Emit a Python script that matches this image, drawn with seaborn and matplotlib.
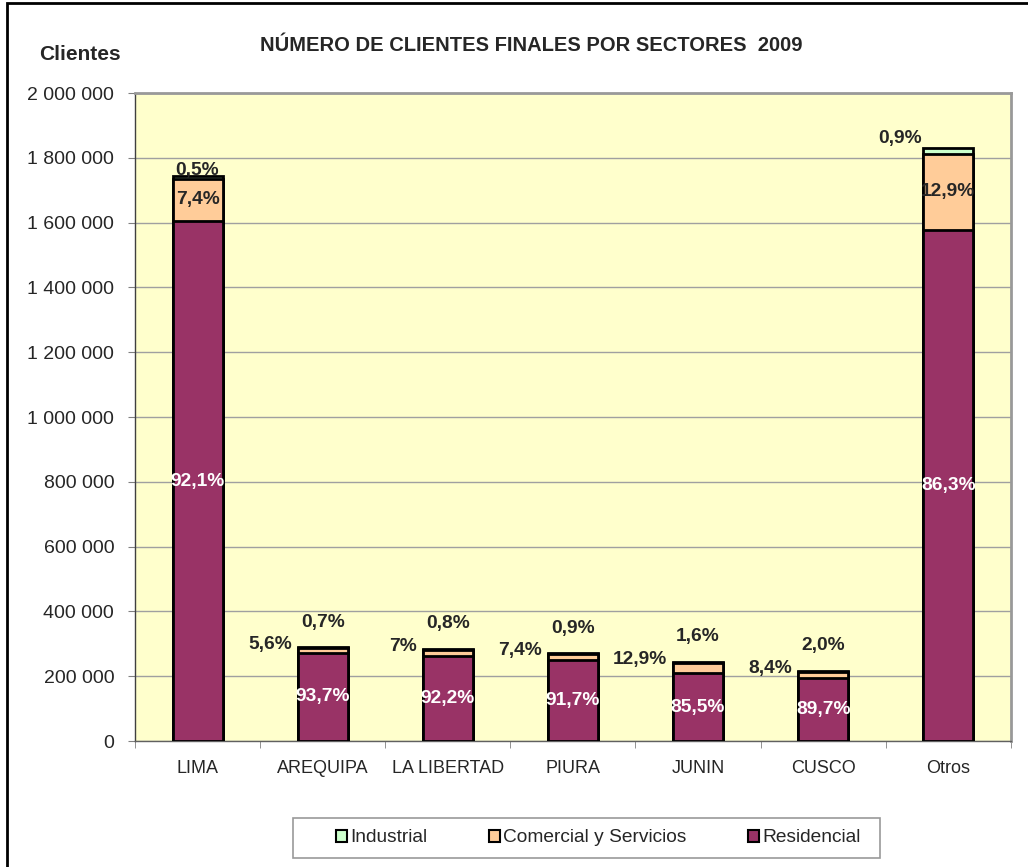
import numpy as np
import pandas as pd
import matplotlib.pyplot as plt
import seaborn as sns
from matplotlib.patches import Patch, Rectangle

sns.set_style("white")
plt.rcParams['font.family'] = ['Liberation Sans', 'DejaVu Sans']

# Datos (clientes por sector, 2009)
regiones = ['LIMA', 'AREQUIPA', 'LA LIBERTAD', 'PIURA', 'JUNIN', 'CUSCO', 'Otros']
residencial = [1605000, 272000, 262000, 249000, 209000, 194000, 1577000]
comercial = [130000, 16000, 20000, 20000, 31500, 18000, 236000]
industrial = [9000, 2000, 2300, 2400, 3900, 4300, 16500]

pct_res = ['92,1%', '93,7%', '92,2%', '91,7%', '85,5%', '89,7%', '86,3%']
pct_com = ['7,4%', '5,6%', '7%', '7,4%', '12,9%', '8,4%', '12,9%']
pct_ind = ['0,5%', '0,7%', '0,8%', '0,9%', '1,6%', '2,0%', '0,9%']

colores = {'Industrial': '#CCFFCC', 'Comercial y Servicios': '#FFCC99', 'Residencial': '#993366'}

df = pd.DataFrame({'Region': regiones, 'Residencial': residencial,
                   'Comercial': comercial, 'Industrial': industrial})
df['Res_Com'] = df['Residencial'] + df['Comercial']
df['Total'] = df['Res_Com'] + df['Industrial']

fig = plt.figure(figsize=(10.28, 8.67), dpi=100)
ax = fig.add_axes([0.1313, 0.1453, 0.852, 0.7474])
ax.set_facecolor('#FFFFCC')

# barras apiladas: se dibuja el acumulado de arriba hacia abajo
for col, color in [('Total', colores['Industrial']),
                   ('Res_Com', colores['Comercial y Servicios']),
                   ('Residencial', colores['Residencial'])]:
    sns.barplot(data=df, x='Region', y=col, order=regiones, color=color,
                width=0.4, edgecolor='black', linewidth=2, saturation=1, ax=ax, zorder=3)

ax.set_ylim(0, 2000000)
ax.set_xlim(-0.5, len(regiones) - 0.5)
ax.set_yticks(np.arange(0, 2000001, 200000))
ax.yaxis.set_major_formatter(plt.FuncFormatter(lambda v, _: f'{int(v):,}'.replace(',', ' ')))
ax.yaxis.grid(True, color='#A0A0A0', linewidth=1)
ax.set_axisbelow(True)
ax.set_xlabel('')
ax.set_ylabel('')

ax.tick_params(axis='y', labelsize=14, length=5, color='#808080', left=True, pad=10)
ax.tick_params(axis='x', which='major', labelsize=13, length=0, pad=14)
ax.set_xticks(np.arange(-0.5, len(regiones), 1), minor=True)
ax.tick_params(axis='x', which='minor', length=5, color='#808080', bottom=True)

for lado in ['top', 'right']:
    ax.spines[lado].set_color('#999999')
    ax.spines[lado].set_linewidth(2)
ax.spines['left'].set_color('#404040')
ax.spines['left'].set_linewidth(1)
ax.spines['bottom'].set_color('#606060')
ax.spines['bottom'].set_linewidth(1)

# etiquetas de porcentaje
fs = 13.8
for i, fila in df.iterrows():
    ax.text(i, fila['Residencial'] / 2, pct_res[i], color='white', fontsize=fs,
            fontweight='bold', ha='center', va='center', zorder=5)
    if fila['Total'] > 1000000:
        ax.text(i, fila['Residencial'] + fila['Comercial'] / 2, pct_com[i], fontsize=fs,
                fontweight='bold', ha='center', va='center', zorder=5)
        if i == 0:
            ax.annotate(pct_ind[i], (i, fila['Total']), xytext=(0, -2), textcoords='offset points',
                        fontsize=fs, fontweight='bold', ha='center', va='bottom', zorder=5)
        else:
            ax.annotate(pct_ind[i], (i - 0.2, fila['Total']), xytext=(-1, 7), textcoords='offset points',
                        fontsize=fs, fontweight='bold', ha='right', va='center', zorder=5)
    else:
        ax.annotate(pct_com[i], (i - 0.2, fila['Total']), xytext=(-4, 2), textcoords='offset points',
                    fontsize=fs, fontweight='bold', ha='right', va='center', zorder=5)
        ax.annotate(pct_ind[i], (i, fila['Total']), xytext=(0, 18), textcoords='offset points',
                    fontsize=fs, fontweight='bold', ha='center', va='center', zorder=5)

fig.text(0.5165, 0.948, 'NÚMERO DE CLIENTES FINALES POR SECTORES  2009', fontsize=14.5,
         fontweight='bold', ha='center', va='center')
fig.text(0.0778, 0.937, 'Clientes', fontsize=15, fontweight='bold', ha='center', va='center')

handles = [Patch(facecolor=colores[k], edgecolor='black', linewidth=1.5, label=k)
           for k in ['Industrial', 'Comercial y Servicios', 'Residencial']]
leg = fig.legend(handles=handles, loc='center', bbox_to_anchor=(0.582, 0.0335), ncol=3,
                 fontsize=13.8, frameon=False, handlelength=0.6, handleheight=0.6,
                 handletextpad=0.15, columnspacing=3.2)

# marco de la leyenda
fig.patches.append(Rectangle((293 / 1028, 9 / 867), 587 / 1028, 40 / 867, transform=fig.transFigure,
                             fill=False, edgecolor='#999999', linewidth=1.2))

# borde del gráfico
fig.patches.append(Rectangle((7 / 1028, -0.1), 1.2, 1.1 - 3 / 867, transform=fig.transFigure,
                             fill=False, edgecolor='black', linewidth=2))

fig.savefig('out.png', dpi=100)
